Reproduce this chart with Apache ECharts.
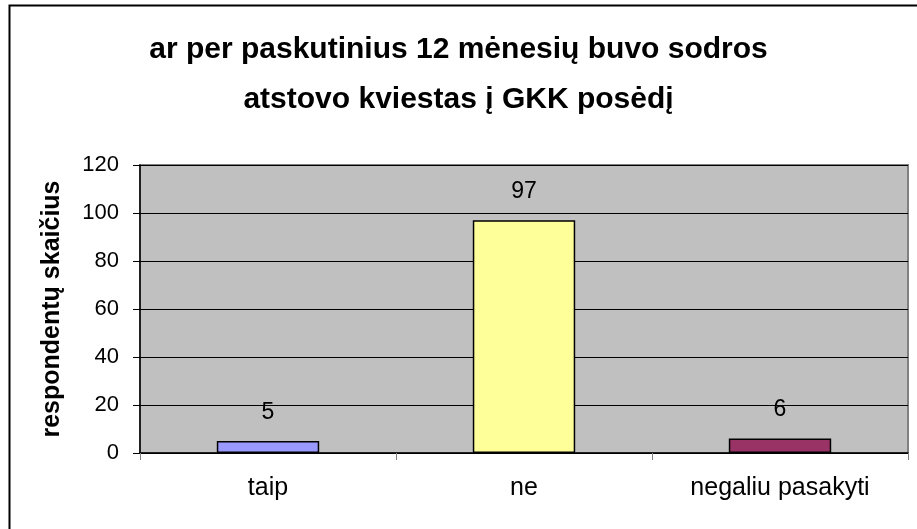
<!DOCTYPE html>
<html>
<head>
<meta charset="utf-8">
<script src="https://cdn.jsdelivr.net/npm/echarts@6/dist/echarts.min.js"></script>
<style>
  html, body { margin: 0; padding: 0; background: #ffffff; }
  #chart { width: 917px; height: 529px; }
</style>
</head>
<body>
<div id="chart"></div>
<script>
const TITLE = "ar per paskutinius 12 mėnesių buvo sodros\natstovo kviestas į GKK posėdį";
const Y_NAME = "respondentų skaičius";
const categories = ["taip", "ne", "negaliu pasakyti"];
const values = [5, 97, 6];
const barColors = ["#9999FF", "#FFFF99", "#993366"];

const FONT = "Liberation Sans, Arial, sans-serif";

const option = {
  backgroundColor: "#ffffff",
  animation: false,
  title: {
    text: TITLE,
    left: "center",
    top: 20,
    textStyle: {
      fontFamily: FONT,
      fontSize: 30,
      fontWeight: "bold",
      color: "#000",
      lineHeight: 50
    }
  },
  graphic: [
    {
      type: "rect",
      shape: { x: 9.5, y: 5.5, width: 920, height: 540 },
      style: { fill: null, stroke: "#000", lineWidth: 2 },
      silent: true
    }
  ],
  grid: {
    left: 140,
    right: 9,
    top: 165,
    bottom: 76,
    show: true,
    backgroundColor: "#C0C0C0",
    borderColor: "#808080",
    borderWidth: 2
  },
  xAxis: {
    type: "category",
    data: categories,
    axisLine: { lineStyle: { color: "#000", width: 1.5 } },
    axisTick: { show: true, length: 7, lineStyle: { color: "#808080" } },
    axisLabel: {
      fontFamily: FONT,
      fontSize: 25,
      color: "#000",
      margin: 23
    }
  },
  yAxis: {
    type: "value",
    min: 0,
    max: 120,
    interval: 20,
    name: Y_NAME,
    nameLocation: "middle",
    nameGap: 75,
    nameTextStyle: {
      fontFamily: FONT,
      fontSize: 25,
      fontWeight: "bold",
      color: "#000"
    },
    axisLine: { show: true, lineStyle: { color: "#000", width: 1.5 } },
    axisTick: { show: true, length: 7, lineStyle: { color: "#000" } },
    axisLabel: {
      fontFamily: FONT,
      fontSize: 22,
      color: "#000",
      margin: 21
    },
    splitLine: { show: true, lineStyle: { color: "#000", width: 1 } }
  },
  series: [
    {
      type: "bar",
      data: values.map((v, i) => ({
        value: v,
        itemStyle: { color: barColors[i] }
      })),
      barWidth: "40%",
      itemStyle: { borderColor: "#000", borderWidth: 1.5 },
      label: {
        show: true,
        position: "top",
        distance: 17,
        fontFamily: FONT,
        fontSize: 23,
        color: "#000"
      }
    }
  ]
};

const chart = echarts.init(document.getElementById("chart"), null, { renderer: "canvas" });
chart.setOption(option);
</script>
</body>
</html>
